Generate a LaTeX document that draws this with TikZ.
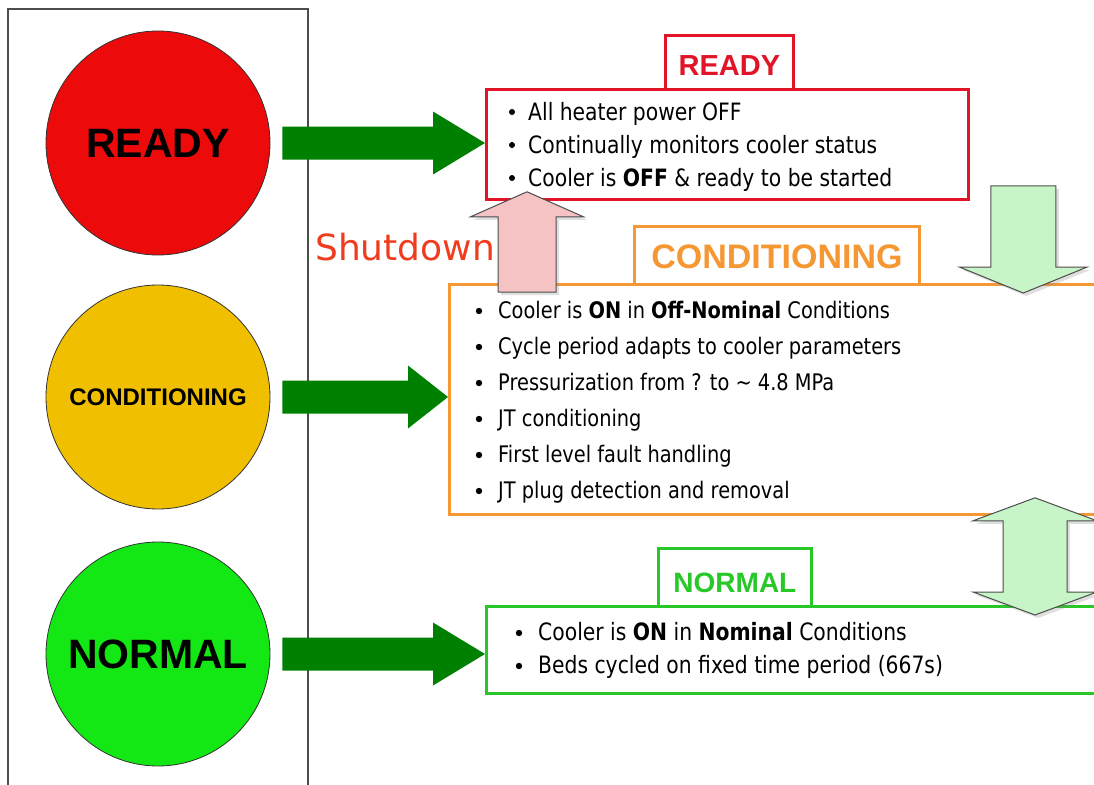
\documentclass[tikz,border=0pt]{standalone}
\usepackage{fontspec}
\setmainfont{Liberation Sans}
\newfontfamily\itemfont[FakeStretch=0.85]{DejaVu Sans}
\newfontfamily\notefont{DejaVu Sans}
\usepackage{tikz}
\usetikzlibrary{calc,shadows}

\definecolor{lampred}{RGB}{236,10,10}
\definecolor{lampyellow}{RGB}{240,192,0}
\definecolor{lampgreen}{RGB}{20,232,20}
\definecolor{gogreen}{RGB}{0,128,0}
\definecolor{boxred}{RGB}{225,20,40}
\definecolor{boxorange}{RGB}{245,152,52}
\definecolor{boxgreen}{RGB}{40,200,40}
\definecolor{palegreen}{RGB}{200,245,200}
\definecolor{palepink}{RGB}{245,195,195}
\definecolor{shutred}{RGB}{240,60,30}

\tikzset{
  lamp/.style={circle,draw=black!80,line width=0.8pt,minimum size=224pt,inner sep=0pt,
    font=\bfseries\fontsize{41}{41}\selectfont},
  statebox/.style={draw=#1,line width=2.8pt,anchor=north west,inner sep=0pt},
  tabbox/.style={draw=#1,text=#1,line width=2.8pt,anchor=north west,inner sep=0pt,text depth=0pt},
  item/.style={anchor=base west,inner sep=0pt,font=\itemfont\fontsize{23.9}{28}\selectfont},
  flowarrow/.style={draw=black!70,line width=1pt,fill=#1,
    drop shadow={opacity=0.25,shadow xshift=3pt,shadow yshift=-3pt}},
}

% fat vertical arrow: foot, tip, shaft half, head half, signed head length, colour
\newcommand{\fatv}[6]{%
  \filldraw[flowarrow=#6] ($(#1)+(-#3,0)$) -- ($(#2)+(-#3,#5)$) -- ($(#2)+(-#4,#5)$) -- (#2)
    -- ($(#2)+(#4,#5)$) -- ($(#2)+(#3,#5)$) -- ($(#1)+(#3,0)$) -- cycle;}

\begin{document}
\begin{tikzpicture}[x=1pt,y=-1pt]
  \useasboundingbox (0,0) rectangle (1094,784);
  \clip (0,0) rectangle (1094,784);

  % traffic light panel
  \draw[black!70,line width=1.2pt] (8,790) -- (8,9) -- (308,9) -- (308,790);
  \node[lamp,fill=lampred] (ready) at (158,143) {READY};
  \node[lamp,fill=lampyellow,font=\bfseries\fontsize{24}{24}\selectfont] (cond) at (158,397) {CONDITIONING};
  \node[lamp,fill=lampgreen] (normal) at (158,654) {NORMAL};

  % state boxes
  \node[statebox=boxred,minimum width=482pt,minimum height=110pt] (readybox) at (485,88) {};
  \node[tabbox=boxred,minimum width=128pt,minimum height=54pt,text height=26.8pt,
    font=\bfseries\fontsize{29}{29}\selectfont] (readytab) at (664,34) {READY};
  \node[statebox=boxorange,minimum width=662pt,minimum height=230pt] (condbox) at (448,283) {};
  \node[tabbox=boxorange,minimum width=285pt,minimum height=58pt,text height=25.5pt,
    font=\bfseries\fontsize{34}{34}\selectfont] (condtab) at (633,225) {CONDITIONING};
  \node[statebox=boxgreen,minimum width=625pt,minimum height=87pt] (normalbox) at (485,605) {};
  \node[tabbox=boxgreen,minimum width=153pt,minimum height=58pt,text height=30pt,
    font=\bfseries\fontsize{28}{28}\selectfont] (normaltab) at (657,547) {NORMAL};

  \foreach \y/\t [count=\i] in {120/{All heater power OFF},
      153/{Continually monitors cooler status},
      186/{Cooler is \textbf{OFF} \& ready to be started}}{
    \fill (512,\y-8) circle (3);
    \node[item] (readyitem\i) at (528,\y) {\t};
  }
  \foreach \y/\t [count=\i] in {318/{Cooler is \textbf{ON} in \textbf{Off-Nominal} Conditions},
      354/{Cycle period adapts to cooler parameters},
      390/{Pressurization from ? to \textasciitilde{} 4.8 MPa},
      426/{JT conditioning},
      462/{First level fault handling},
      498/{JT plug detection and removal}}{
    \fill (479,\y-7) circle (3.2);
    \node[item,font=\itemfont\fontsize{22.8}{28}\selectfont] (conditem\i) at (498,\y) {\t};
  }
  \foreach \y/\t [count=\i] in {640/{Cooler is \textbf{ON} in \textbf{Nominal} Conditions},
      673/{Beds cycled on fixed time period (667s)}}{
    \fill (519,\y-7) circle (3.2);
    \node[item] (normalitem\i) at (538,\y) {\t};
  }

  % lamp -> description arrows
  \foreach \s/\b/\h in {ready/readybox/52,cond/condbox/40,normal/normalbox/52}{
    \coordinate (from) at ($(\s.east)+(12,0)$);
    \coordinate (tip) at (\s.east -| \b.west);
    \fill[gogreen] ($(from)+(0,-16.5)$) -- ($(tip)+(-\h,-16.5)$) -- ($(tip)+(-\h,-31.5)$) -- (tip)
      -- ($(tip)+(-\h,31.5)$) -- ($(tip)+(-\h,16.5)$) -- ($(from)+(0,16.5)$) -- cycle;
  }

  % transitions
  \node[anchor=base west,inner sep=0pt,text=shutred,font=\notefont\fontsize{36}{36}\selectfont] (shutdown) at (315,260) {Shutdown};

  \coordinate (upfoot) at ($(condbox.north west)+(79,9)$);
  \coordinate (uptip) at ($(upfoot |- readybox.south)+(0,-9)$);
  \fatv{upfoot}{uptip}{29}{56.5}{25}{palepink}

  \coordinate (downfoot) at ($(readybox.south east)+(53.5,-15)$);
  \coordinate (downtip) at ($(downfoot |- condbox.north)+(0,10)$);
  \fatv{downfoot}{downtip}{32.5}{64}{-26}{palegreen}

  \coordinate (bothtop) at ($(condbox.south west)+(587,-18)$);
  \coordinate (bothbot) at ($(bothtop |- normalbox.north)+(0,10)$);
  \filldraw[flowarrow=palegreen] (bothtop) -- ($(bothtop)+(62,23)$) -- ($(bothtop)+(32,23)$)
    -- ($(bothbot)+(32,-23)$) -- ($(bothbot)+(62,-23)$) -- (bothbot) -- ($(bothbot)+(-62,-23)$)
    -- ($(bothbot)+(-32,-23)$) -- ($(bothtop)+(-32,23)$) -- ($(bothtop)+(-62,23)$) -- cycle;
\end{tikzpicture}
\end{document}
